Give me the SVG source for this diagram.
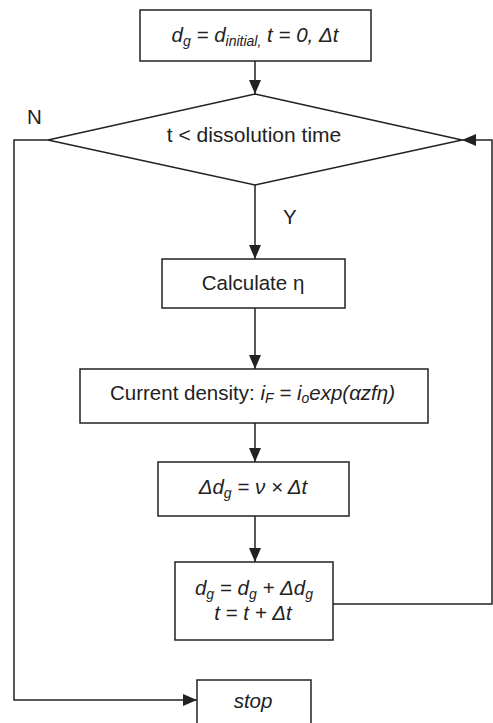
<svg xmlns="http://www.w3.org/2000/svg" width="493" height="723" viewBox="0 0 493 723">
<style>
.box{fill:#fff;stroke:#222;stroke-width:1.5}
.ln{fill:none;stroke:#222;stroke-width:1.5}
text{font-family:"Liberation Sans",Arial,sans-serif;font-size:20.5px;fill:#222}
.it{font-style:italic}
.sub{font-size:14px}
</style>
<defs>
<marker id="arr" markerUnits="userSpaceOnUse" markerWidth="14" markerHeight="12" refX="14" refY="6" orient="auto">
<path d="M0,0 L14,6 L0,12 Z" fill="#222"/>
</marker>
</defs>
<g id="connectors">
<path class="ln" d="M255,61 V94" marker-end="url(#arr)"/>
<path class="ln" d="M255,185 V259" marker-end="url(#arr)"/>
<path class="ln" d="M255,308 V369" marker-end="url(#arr)"/>
<path class="ln" d="M255,423 V462" marker-end="url(#arr)"/>
<path class="ln" d="M255,516 V562" marker-end="url(#arr)"/>
<path class="ln" d="M333,604 H492 V140 H462" marker-end="url(#arr)"/>
<path class="ln" d="M48,140 H14 V700 H197" marker-end="url(#arr)"/>
<text x="27" y="124">N</text>
<text x="283" y="224">Y</text>
</g>
<g id="start">
<rect class="box" x="140" y="10" width="231" height="51"/>
<text class="it" x="255" y="42" text-anchor="middle">d<tspan class="sub" dy="4">g</tspan><tspan dy="-4"> = d</tspan><tspan class="sub" dy="4">initial,</tspan><tspan dy="-4">  t = 0, Δt</tspan></text>
</g>
<g id="decision">
<polygon class="box" points="255,94 462,140 255,185 48,140"/>
<text x="254" y="142" text-anchor="middle" style="font-size:21px">t &lt; dissolution time</text>
</g>
<g id="calc">
<rect class="box" x="162" y="259" width="183" height="49"/>
<text x="253" y="290" text-anchor="middle">Calculate η</text>
</g>
<g id="current">
<rect class="box" x="80" y="369" width="348" height="54"/>
<text x="110" y="400">Current density: <tspan class="it">i</tspan><tspan class="it sub" dy="3">F</tspan><tspan class="it" dy="-3"> = i</tspan><tspan class="it sub" dy="3">o</tspan><tspan class="it" dy="-3">exp(αzfη)</tspan></text>
</g>
<g id="delta">
<rect class="box" x="158" y="462" width="191" height="54"/>
<text class="it" x="253" y="494" text-anchor="middle">Δd<tspan class="sub" dy="4">g</tspan><tspan dy="-4"> =  ν × Δt</tspan></text>
</g>
<g id="update">
<rect class="box" x="175" y="562" width="158" height="78"/>
<text class="it" x="254" y="595" text-anchor="middle">d<tspan class="sub" dy="4">g</tspan><tspan dy="-4"> = d</tspan><tspan class="sub" dy="4">g</tspan><tspan dy="-4"> + Δd</tspan><tspan class="sub" dy="4">g</tspan></text>
<text class="it" x="253" y="620" text-anchor="middle">t = t + Δt</text>
</g>
<g id="stop">
<rect class="box" x="197" y="680" width="114" height="60"/>
<text class="it" x="253" y="708" text-anchor="middle">stop</text>
</g>
</svg>
